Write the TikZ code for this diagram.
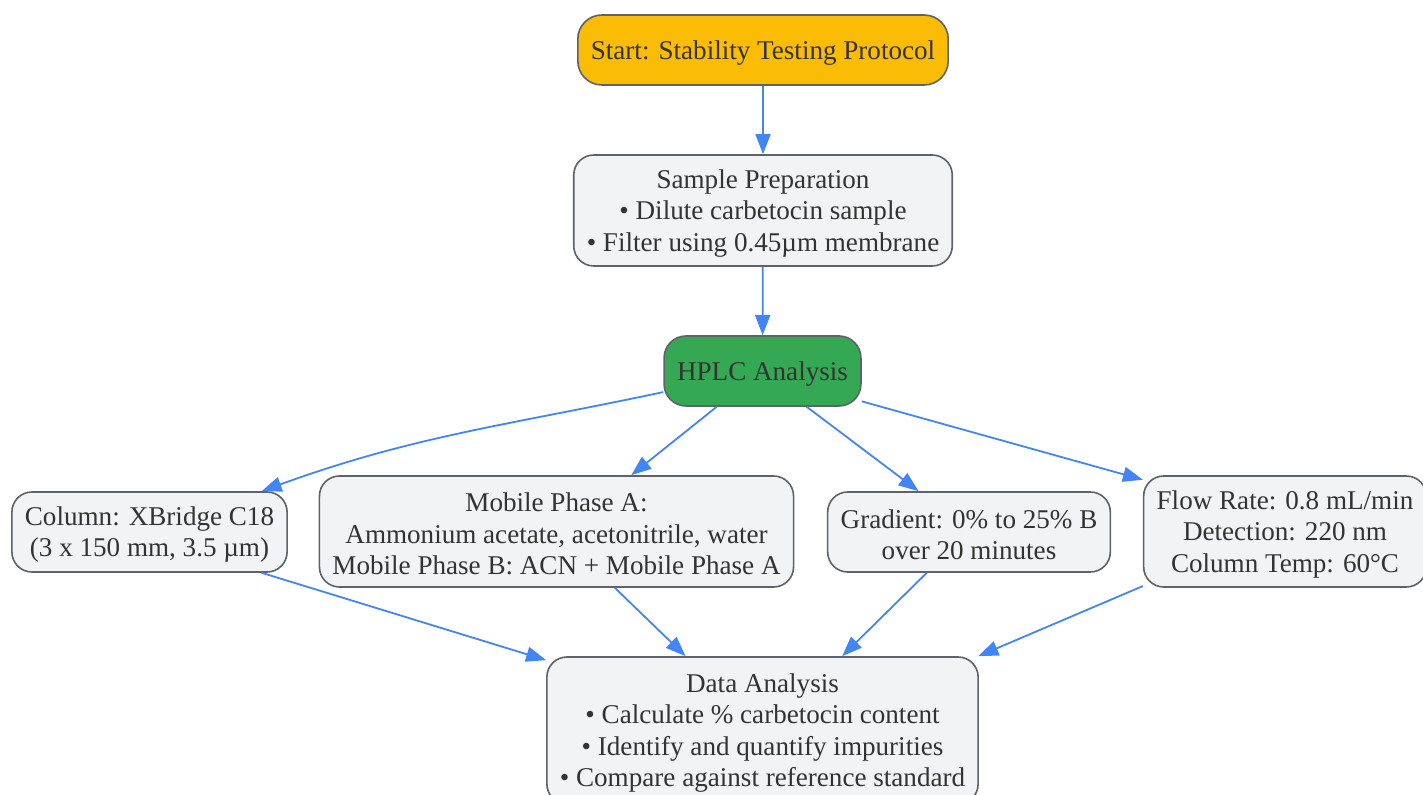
\documentclass[tikz,border=0pt]{standalone}
\usepackage{fontspec}
\setmainfont{Liberation Serif}
\usepackage{tikz}
\usetikzlibrary{arrows.meta, positioning, calc}

\definecolor{boxgray}{HTML}{F1F3F4}
\definecolor{edgegray}{HTML}{5F6368}
\definecolor{startyellow}{HTML}{FBBC05}
\definecolor{hplcgreen}{HTML}{34A853}
\definecolor{flowblue}{HTML}{4285F4}
\definecolor{txtgray}{HTML}{333333}

% strut for the first line of a box
\newcommand{\firstln}{\rule{0pt}{12pt}}

\tikzset{
    proc/.style={draw=edgegray, line width=0.8pt, fill=boxgray, rounded corners=10pt,
        align=center, text=txtgray, inner xsep=6.5pt, inner ysep=2pt,
        font=\fontsize{13.55}{15.75}\selectfont},
    flow/.style={-{Triangle[length=10pt, width=7.5pt]}, flowblue, line width=0.9pt}
}

\begin{document}
\begin{tikzpicture}[x=0.5pt, y=-0.5pt]
        \clip (0,0) rectangle (1423,795);
        \useasboundingbox (0,0) rectangle (1423,795);

        % Top of the protocol
        \node[proc, fill=startyellow, minimum height=35pt, rounded corners=12pt] (start) at (763,50) {\firstln Start: Stability Testing Protocol};
        \node[proc, minimum height=55.5pt] (prep) at (763,210.5) {\firstln Sample Preparation\\ • Dilute carbetocin sample\\ • Filter using 0.45µm membrane};
        \node[proc, fill=hplcgreen, minimum height=35pt, rounded corners=11pt] (hplc) at (762.5,371) {\firstln HPLC Analysis};

        % HPLC conditions
        \node[proc, minimum height=40pt] (column) at (149.5,532) {\firstln Column: XBridge C18\\ (3 x 150 mm, 3.5 µm)};
        \node[proc, minimum height=55.5pt] (mobile) at (556.5,531.5) {\firstln Mobile Phase A:\\ Ammonium acetate, acetonitrile, water\\ Mobile Phase B: ACN + Mobile Phase A};
        \node[proc, minimum height=40pt] (gradient) at (969,532) {\firstln Gradient: 0\% to 25\% B\\ over 20 minutes};
        \node[proc, minimum height=55.5pt] (rate) at (1285,531.5) {\firstln Flow Rate: 0.8 mL/min\\ Detection: 220 nm\\ Column Temp: 60°C};

        % Results
        \node[proc, minimum height=73.5pt] (data) at (762.5,730.5) {\firstln Data Analysis\\ • Calculate \% carbetocin content\\ • Identify and quantify impurities\\ • Compare against reference standard};

        % Connections
        \draw[flow] (start) -- (prep);
        \draw[flow] (prep) -- (hplc);
        \draw[flow] (hplc.192) to[out=192, in=20] (column.20);
        \draw[flow] (hplc.218) -- (mobile.37);
        \draw[flow] (hplc.-39) -- (gradient.141);
        \draw[flow] (hplc.-17) -- (rate.160);

        \draw[flow] (column.-20) -- (data.162);
        \draw[flow] (mobile.-44) -- (data.136.5);
        \draw[flow] (gradient.224) -- (data.43.5);
        \draw[flow] (rate.201) -- (data.19.5);
    \end{tikzpicture}
\end{document}
